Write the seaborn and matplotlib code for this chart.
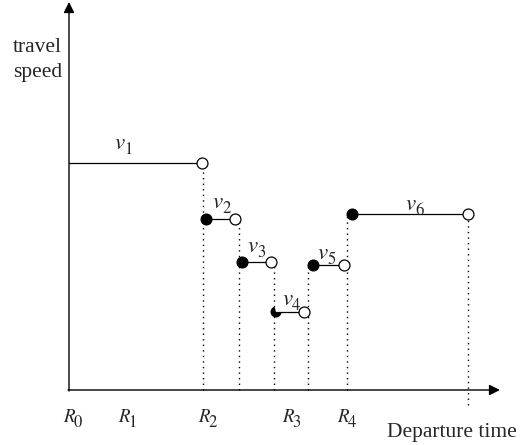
import matplotlib
matplotlib.use('Agg')
import matplotlib.pyplot as plt
from matplotlib.patches import Wedge
import seaborn as sns
import pandas as pd

# Step segments of travel speed over departure time
seg_names = ['1', '2', '3', '4', '5', '6']
seg_start = [0, 137, 173, 207, 244, 283]
seg_end = [133, 166, 202, 235, 275, 399]
seg_speed = [227, 171, 128, 78, 125, 176]

# Times where the speed changes (dotted guides)
change_times = [134, 170, 205, 239, 278, 399]

# Departure-time tick labels
tick_names = ['0', '1', '2', '3', '4']
tick_pos = [-6, 49, 129, 213, 268]

# label placement (layout only): left edge and lift above the segment
label_x = [46, 144, 179, 214, 249, 337]
label_dy = [14, 11, 10, 7, 6, 4]

sns.set_theme(style='white')
plt.rcParams['font.family'] = ['Liberation Serif', 'DejaVu Serif']

fig = plt.figure(figsize=(5.28, 4.45), dpi=100)
ax = fig.add_axes([0, 0, 1, 1])
ax.set_xlim(-69, 459)
ax.set_ylim(-55, 390)
ax.axis('off')


def sub_label(x, y, main, sub, size, sub_size, dx):
    """Italic symbol with a (fairly large) upright subscript."""
    ax.text(x, y, main, fontsize=size, family='STIXGeneral', style='italic',
            ha='left', va='baseline')
    ax.annotate(sub, xy=(x, y), xytext=(dx, -3.6), textcoords='offset points',
                fontsize=sub_size, family='STIXGeneral', ha='left', va='baseline')


segs = pd.DataFrame({'name': seg_names, 'start': seg_start,
                     'end': seg_end, 'speed': seg_speed})

# dotted guides: from the higher neighbouring level down to the axis
for i, t in enumerate(change_times):
    last = i == len(change_times) - 1
    top = segs['speed'][i] if last else max(segs['speed'][i], segs['speed'][i + 1])
    bottom = -15 if last else 0
    ax.plot([t, t], [bottom, top], color='black', lw=1.0, ls=(0, (1, 3)), zorder=1)

# horizontal segments + labels
for i, row in segs.iterrows():
    ax.plot([row['start'], row['end']], [row['speed'], row['speed']],
            color='black', lw=0.9, zorder=2)
    sub_label(label_x[i], row['speed'] + label_dy[i], 'v', row['name'], 16.5, 12, 6.6)

# closed (filled) start points, open end points
full = segs.iloc[[1, 2, 4, 5]]
sns.scatterplot(x=full['start'], y=full['speed'], ax=ax, s=62,
                color='black', edgecolor='black', linewidth=0.8, zorder=3, legend=False)
# v4 start point is only partly filled in the original
ax.add_patch(Wedge((segs['start'][3], segs['speed'][3]), 5.5, 105, 355,
                   facecolor='black', edgecolor='none', zorder=3))
sns.scatterplot(x=segs['end'], y=segs['speed'], ax=ax, s=62,
                color='white', edgecolor='black', linewidth=0.9, zorder=3, legend=False)

# axes with arrow heads
ax.annotate('', xy=(0, 388), xytext=(0, -1),
            arrowprops=dict(arrowstyle='-|>', color='black', lw=1.0,
                            mutation_scale=16, shrinkA=0, shrinkB=0))
ax.annotate('', xy=(431, 0), xytext=(-1, 0),
            arrowprops=dict(arrowstyle='-|>', color='black', lw=1.0,
                            mutation_scale=16, shrinkA=0, shrinkB=0))

for name, x in zip(tick_names, tick_pos):
    sub_label(x, -32, 'R', name, 13.5, 12, 7.6)

ax.text(-7, 338, 'travel', fontsize=15.5, ha='right', va='baseline')
ax.text(-7, 313, 'speed', fontsize=15.5, ha='right', va='baseline')
ax.text(318, -47, 'Departure time', fontsize=15.5, ha='left', va='baseline')

fig.savefig('out.png', dpi=100)
